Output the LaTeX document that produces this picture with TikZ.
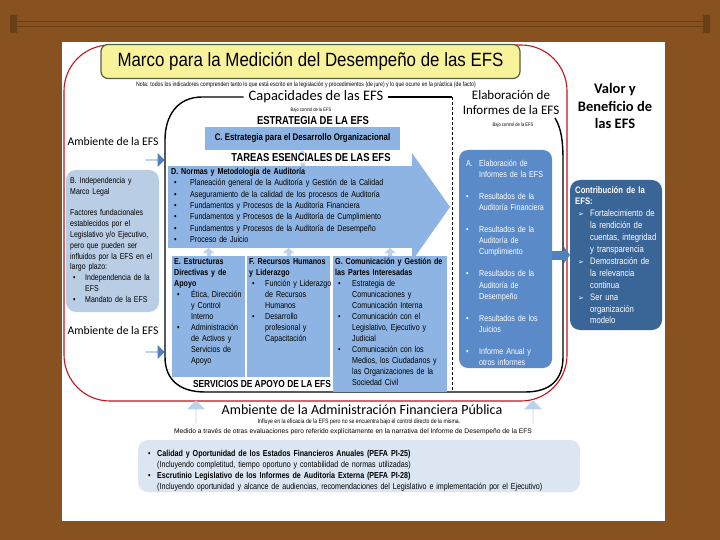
\documentclass[tikz,border=0pt]{standalone}
\usepackage{fontspec}
\setmainfont{Liberation Sans}
\newfontfamily\narrow[FakeStretch=0.82]{Liberation Sans}
\newfontfamily\titlefont[FakeStretch=0.88]{Liberation Sans}
\newfontfamily\calibri{Carlito}
\newfontfamily\dejavu{DejaVu Sans}
\usetikzlibrary{arrows.meta,shapes.arrows}

\definecolor{woodbrown}{HTML}{87521F}
\definecolor{wooddark}{HTML}{6A3F16}
\definecolor{titleyellow}{HTML}{F8F29A}
\definecolor{titleedge}{HTML}{55603F}
\definecolor{taskblue}{HTML}{8DB4E2}
\definecolor{reportblue}{HTML}{5A8AC8}
\definecolor{valueblue}{HTML}{3A6597}
\definecolor{legalblue}{HTML}{B9CDE5}
\definecolor{pfmblue}{HTML}{DCE6F2}
\definecolor{arrowblue}{HTML}{4F81BD}
\definecolor{paleblue}{HTML}{BCD2EC}
\definecolor{framered}{HTML}{C0161C}

% bullet lists inside the boxes
\newcommand{\litem}[3][16]{\par\hangindent=#1pt\hangafter=1\noindent\makebox[#1pt][l]{\hspace{3pt}#2}{\let\\\newline#3}\par}
\newcommand{\bitem}[2][16]{\litem[#1]{\textbullet}{#2}}
\newcommand{\skipline}{\par\vskip 11pt}
\newcommand{\arrowmark}{{\dejavu\fontsize{7}{7}\selectfont ➢}}

\tikzset{
  panel/.style={anchor=north west, inner sep=0, outer sep=0},
  txt/.style={inner sep=0, anchor=north west, align=left, text width=#1},
  small/.style={font=\narrow\fontsize{8.7}{11}\selectfont},
  caps/.style={font=\narrow\bfseries\fontsize{11.5}{12}\selectfont},
  tiny/.style={font=\narrow\fontsize{5}{6}\selectfont, inner sep=1},
  head/.style={font=\calibri\fontsize{14.5}{15}\selectfont},
  bracket/.style={line width=1.4, black},
  smallup/.style={paleblue, line width=4, -{Triangle[width=11pt,length=5pt]}},
  midarrow/.style={arrowblue, line width=9, -{Triangle[width=16pt,length=6pt]}},
  rightblk/.style={single arrow, fill=arrowblue, minimum height=19, minimum width=14,
    single arrow head extend=3, inner sep=0},
  upblk/.style={single arrow, fill=paleblue, shape border rotate=90, minimum height=23,
    minimum width=18, single arrow head extend=4.5, inner sep=0}
}

\begin{document}
\begin{tikzpicture}[x=1pt,y=-1pt]
\useasboundingbox (0,0) rectangle (720,540);
\fill[woodbrown] (0,0) rectangle (720,540);
\draw[wooddark, line width=0.8] (12,21) -- (708,21) (12,26) -- (708,26);
\fill[wooddark] (10,15) rectangle (17,33) (703,15) rectangle (710,33);
\fill[white] (62,42) rectangle (665,521);

% outer red frame and inner black frame
\draw[framered, line width=1.1, rounded corners=46] (64,45) rectangle (567,401);

\node[fill=titleyellow, draw=titleedge, line width=1.2, rounded corners=7,
  minimum width=419, minimum height=34,
  font=\titlefont\fontsize{19.2}{20}\selectfont] (title) at (310.5,61.5)
  {Marco para la Medición del Desempeño de las EFS};
\node[tiny, font=\narrow\fontsize{6.3}{7}\selectfont] (nota) at (306,85)
  {Nota: todos los indicadores comprenden tanto lo que está escrito en la legislación y procedimientos (de jure) y lo que ocurre en la práctica (de facto)};

\node[head, inner sep=5] (capac) at (316,97) {Capacidades de las EFS};
\node[tiny] (bajo1) at (311,110) {Bajo control de la EFS};
\node[caps] (estrategia) at (313,121) {ESTRATEGIA DE LA EFS};
\node[head, font=\calibri\fontsize{13}{15}\selectfont, align=center] (elab) at (511,103)
  {Elaboración de\\Informes de la EFS};
\node[tiny] (bajo2) at (513,125) {Bajo control de la EFS};
\node[font=\calibri\bfseries\fontsize{14.5}{17.5}\selectfont, align=center] (valor) at (615,106)
  {Valor y\\Beneficio de\\las EFS};

\draw[bracket] (capac.west) -- (202,97) .. controls (178,97) and (165,115) .. (165,140)
  -- (165,357) .. controls (165,380) and (180,392) .. (205,392) -- (525,392)
  .. controls (550,392) and (563,380) .. (563,357) -- (563,160)
  .. controls (563,140) and (561,128) .. (555,118);
\draw[bracket] (capac.east) -- (452,97);
\draw[black, line width=0.8, dash pattern=on 3pt off 2pt] (452,97) -- (452,392);

% strategy and core tasks
\node[fill=taskblue, minimum width=195, minimum height=23, inner sep=0,
  font=\narrow\bfseries\fontsize{9.6}{10}\selectfont] (boxC) at (302.5,138.5)
  {C. Estrategia para el Desarrollo Organizacional};
\node[panel, fill=taskblue, minimum width=244, minimum height=82] (boxD) at (168,166) {};
\fill[taskblue] ([yshift=13pt]boxD.north east) -- ([xshift=38pt]boxD.east)
  -- ([yshift=-13pt]boxD.south east) -- cycle;
\draw[smallup] (boxD.north -| boxC.south) -- (boxC.south);
\node[caps, fill=white, inner sep=1] (tareas) at (311,158) {TAREAS ESENCIALES DE LAS EFS};
\node[txt=240, font=\narrow\fontsize{8.7}{11.3}\selectfont] (txtD) at (171,168)
  {\textbf{D. Normas y Metodología de Auditoría}
   \bitem[19]{Planeación general de la Auditoría y Gestión de la Calidad}
   \bitem[19]{Aseguramiento de la calidad de los procesos de Auditoría}
   \bitem[19]{Fundamentos y Procesos de la Auditoría Financiera}
   \bitem[19]{Fundamentos y Procesos de la Auditoría de Cumplimiento}
   \bitem[19]{Fundamentos y Procesos de la Auditoría de Desempeño}
   \bitem[19]{Proceso de Juicio}};

% support services
\node[panel, fill=taskblue, minimum width=73, minimum height=121] (boxE) at (172,256) {};
\node[panel, fill=taskblue, minimum width=83, minimum height=121] (boxF) at (247,256) {};
\node[panel, fill=taskblue, minimum width=114, minimum height=136] (boxG) at (333,256) {};
\draw[smallup] (boxE.north) -- (boxE.north |- boxD.south);
\draw[smallup] (boxF.north) -- (boxF.north |- boxD.south);
\draw[smallup] (boxG.north) -- (boxG.north |- boxD.south);
\node[txt=72, small] (txtE) at (174,258)
  {\textbf{E. Estructuras\\Directivas y de\\Apoyo}
   \bitem[17]{Ética, Dirección\\y Control\\Interno}
   \bitem[17]{Administración\\de Activos y\\Servicios de\\Apoyo}};
\node[txt=90, small] (txtF) at (249,258)
  {\textbf{F. Recursos Humanos\\y Liderazgo}
   \bitem[16]{Función y Liderazgo\\de Recursos\\Humanos}
   \bitem[16]{Desarrollo\\profesional y\\Capacitación}};
\node[txt=112, small] (txtG) at (335,258)
  {\textbf{G. Comunicación y Gestión de\\las Partes Interesadas}
   \bitem[17]{Estrategia de\\Comunicaciones y\\Comunicación Interna}
   \bitem[17]{Comunicación con el\\Legislativo, Ejecutivo y\\Judicial}
   \bitem[17]{Comunicación con los\\Medios, los Ciudadanos y\\las Organizaciones de la\\Sociedad Civil}};
\node[font=\narrow\bfseries\fontsize{10.2}{11}\selectfont] (servicios) at (262,384)
  {SERVICIOS DE APOYO DE LA EFS};

% reports and value
\node[panel, rounded corners=9, fill=reportblue, minimum width=93, minimum height=218] (boxA) at (459,150) {};
\node[txt=90, text=white, font=\narrow\fontsize{8.7}{11.1}\selectfont] (txtA) at (463,155)
  {\litem{A.}{Elaboración de\\Informes de la EFS}\skipline
   \bitem{Resultados de la\\Auditoría Financiera}\skipline
   \bitem{Resultados de la\\Auditoría de\\Cumplimiento}\skipline
   \bitem{Resultados de la\\Auditoría de\\Desempeño}\skipline
   \bitem{Resultados de los\\Juicios}\skipline
   \bitem{Informe Anual y\\otros informes}};
\node[panel, rounded corners=10, fill=valueblue, minimum width=92, minimum height=150] (contrib) at (570,180) {};
\draw[midarrow] (boxA.east |- contrib.west) -- (contrib.west);
\node[txt=90, text=white, font=\narrow\fontsize{9.4}{11.9}\selectfont] (txtContrib) at (575,186)
  {\textbf{Contribución de la\\EFS:}
   \litem[15]{\arrowmark}{Fortalecimiento de\\la rendición de\\cuentas, integridad\\y transparencia}
   \litem[15]{\arrowmark}{Demostración de\\la relevancia\\continua}
   \litem[15]{\arrowmark}{Ser una\\organización\\modelo}};

% environment of the SAI
\node[font=\calibri\fontsize{11.7}{13}\selectfont] (amb1) at (113,141) {Ambiente de la EFS};
\node[font=\calibri\fontsize{11.7}{13}\selectfont] (amb2) at (113,330) {Ambiente de la EFS};
\node[rightblk] (arrL1) at (155,160) {};
\node[rightblk] (arrL2) at (155,352) {};
\node[panel, rounded corners=10, fill=legalblue, minimum width=93, minimum height=142] (boxB) at (66,170) {};
\node[txt=92, font=\narrow\fontsize{8.5}{10.8}\selectfont] (txtB) at (70,177)
  {B. Independencia y\\Marco Legal\skipline
   Factores fundacionales\\establecidos por el\\Legislativo y/o Ejecutivo,\\pero que pueden ser\\influidos por la EFS en el\\largo plazo:
   \bitem[15]{Independencia de la\\EFS}
   \bitem[15]{Mandato de la EFS}};

% public financial management environment
\node[font=\calibri\fontsize{14}{15}\selectfont, inner sep=1] (pfm) at (362,410)
  {Ambiente de la Administración Financiera Pública};
\node[upblk] (arrU1) at (196,412) {};
\node[upblk] (arrU2) at (533,412) {};
\node[tiny, font=\narrow\fontsize{6.3}{7}\selectfont] (pfmnote1) at (359,422)
  {Influye en la eficacia de la EFS pero no se encuentra bajo el control directo de la misma.};
\node[tiny, font=\fontsize{6.7}{7}\selectfont] (pfmnote2) at (353,431.5)
  {Medido a través de otras evaluaciones pero referido explícitamente en la narrativa del Informe de Desempeño de la EFS};
\node[panel, rounded corners=10, fill=pfmblue, minimum width=442, minimum height=52] (boxPFM) at (138,440) {};
\node[txt=432, font=\narrow\fontsize{8.7}{10.7}\selectfont] (txtPFM) at (145,446)
  {\bitem[12]{\textbf{Calidad y Oportunidad de los Estados Financieros Anuales (PEFA PI-25)}\\(Incluyendo completitud, tiempo oportuno y contabilidad de normas utilizadas)}
   \bitem[12]{\textbf{Escrutinio Legislativo de los Informes de Auditoría Externa (PEFA PI-28)}\\(Incluyendo oportunidad y alcance de audiencias, recomendaciones del Legislativo e implementación por el Ejecutivo)}};
\end{tikzpicture}
\end{document}
